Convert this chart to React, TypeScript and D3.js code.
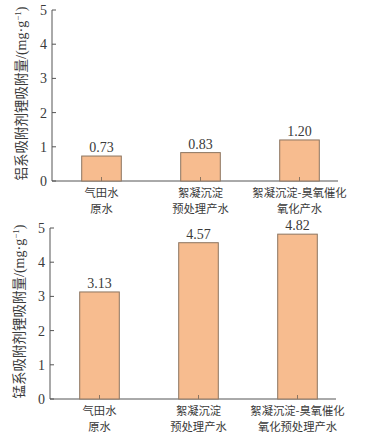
import React from "react";
import * as d3 from "d3";

const categoriesTop = [["气田水", "原水"], ["絮凝沉淀", "预处理产水"], ["絮凝沉淀-臭氧催化", "氧化产水"]];
const categoriesBottom = [["气田水", "原水"], ["絮凝沉淀", "预处理产水"], ["絮凝沉淀-臭氧催化", "氧化预处理产水"]];
const valuesTop = [0.73, 0.83, 1.2];
const valuesBottom = [3.13, 4.57, 4.82];
const yTicks = [0, 1, 2, 3, 4, 5];
const titleTop = "铝系吸附剂锂吸附量";
const titleBottom = "锰系吸附剂锂吸附量";
const titleUnit = "/(mg·g";

const serif = "'Liberation Serif', 'DejaVu Serif', serif";
const cjk = "'Noto Sans CJK SC', sans-serif";
const textColor = "#3a3a3a";

function Panel({ top, axisX, cats, vals, title }: any) {
  const y0 = top + 171;
  const y5 = top;
  const y = d3.scaleLinear().domain([0, 5]).range([y0, y5]);
  const x = d3.scaleBand().domain(cats.map((_: any, i: number) => String(i))).range([axisX, axisX + 297]).paddingInner(0.6).paddingOuter(0.3);
  const bw = x.bandwidth();
  return (
    <g>
      <line x1={axisX} x2={axisX} y1={y5} y2={y0} stroke="#555" strokeWidth={1} />
      <line x1={axisX} x2={axisX + 286} y1={y0} y2={y0} stroke="#555" strokeWidth={1} />
      {yTicks.map((t) => (
        <g key={t}>
          <line x1={axisX} x2={axisX + 4} y1={y(t)} y2={y(t)} stroke="#555" />
          <text x={axisX - 5} y={y(t)} dy="0.35em" textAnchor="end" fontFamily={serif} fontSize={14} fill={textColor}>{t}</text>
        </g>
      ))}
      {vals.map((v: number, i: number) => {
        const bx = x(String(i))!;
        const cx = bx + bw / 2;
        return (
          <g key={i}>
            <rect x={bx} y={y(v)} width={bw} height={y0 - y(v)} fill="#F7BC8F" stroke="#8c7560" strokeWidth={1} />
            <line x1={cx} x2={cx} y1={y0} y2={y0 - 4} stroke="#8c7560" />
            <text x={cx} y={y(v) - 4} textAnchor="middle" fontFamily={serif} fontSize={14} fill={textColor}>{v.toFixed(2)}</text>
            {cats[i].map((line: string, j: number) => (
              <text key={j} x={cx} y={y0 + 15.5 + j * 16.4} textAnchor="middle" fontFamily={cjk} fontSize={11.3} fill={textColor}>{line}</text>
            ))}
          </g>
        );
      })}
      <text transform={`translate(${axisX - 26},${(y0 + y5) / 2 - 2}) rotate(-90)`} textAnchor="middle" fontFamily={cjk} fontSize={13.5} fill={textColor}>
        {title}
        <tspan fontFamily={serif} fontSize={14}>{titleUnit}</tspan>
        <tspan fontFamily={serif} fontSize={9} dy={-5}>−1</tspan>
        <tspan fontFamily={serif} fontSize={14} dy={5}>)</tspan>
      </text>
    </g>
  );
}

export default function App() {
  return (
    <svg width={379} height={435} style={{ position: "absolute", left: 0, top: 0, background: "#fff" }}>
      <Panel top={10} axisX={52} cats={categoriesTop} vals={valuesTop} title={titleTop} />
      <Panel top={228} axisX={50} cats={categoriesBottom} vals={valuesBottom} title={titleBottom} />
    </svg>
  );
}
